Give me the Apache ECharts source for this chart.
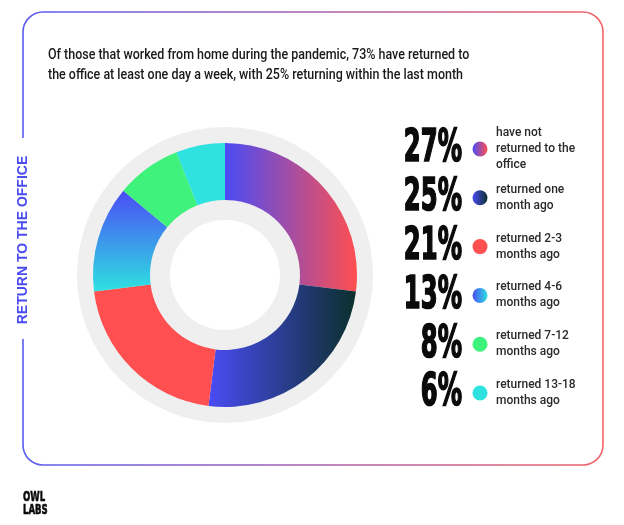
<!DOCTYPE html>
<html><head><meta charset="utf-8">
<script src="https://cdn.jsdelivr.net/npm/echarts@6/dist/echarts.min.js"></script>
<style>html,body{margin:0;padding:0;background:#fff}#c{width:624px;height:525px}</style>
</head><body><div id="c"></div>
<script>
// ---- data ----
const categories = ['have not returned to the office','returned one month ago','returned 2-3 months ago','returned 4-6 months ago','returned 7-12 months ago','returned 13-18 months ago'];
const legendLines = [['have not','returned to the','office'],['returned one','month ago'],['returned 2-3','months ago'],['returned 4-6','months ago'],['returned 7-12','months ago'],['returned 13-18','months ago']];
const values = [27,25,21,13,8,6];
const titleLines = ['Of those that worked from home during the pandemic, 73% have returned to','the office at least one day a week, with 25% returning within the last month'];
const sideTitle = 'RETURN TO THE OFFICE';
const logoLines = ['OWL','LABS'];

// ---- styles ----
const G = echarts.graphic.LinearGradient;
const BLUE = '#4a4cf5', RED = '#ff4f50', DARK = '#0b2f2c', CYAN = '#2ee2e0', GREEN = '#3ef27b';
const sliceColors = [
  new G(0,0,1,0,[{offset:0,color:BLUE},{offset:1,color:RED}]),
  new G(0,0,1,0,[{offset:0,color:BLUE},{offset:1,color:DARK}]),
  RED,
  new G(0,0,0,1,[{offset:0,color:BLUE},{offset:1,color:CYAN}]),
  GREEN,
  CYAN
];
const dotColors = [
  new G(0,0,1,0,[{offset:0,color:BLUE},{offset:1,color:RED}]),
  new G(0,0,1,0,[{offset:0,color:BLUE},{offset:1,color:DARK}]),
  RED,
  new G(0,0,1,0,[{offset:0,color:BLUE},{offset:1,color:CYAN}]),
  GREEN,
  CYAN
];

const chart = echarts.init(document.getElementById('c'), null, {renderer:'canvas'});
const graphics = [];
// border
graphics.push({type:'rect', shape:{x:23,y:12,width:580,height:453,r:20},
  style:{fill:'none', stroke:new G(0,0,1,0,[{offset:0,color:'#5a5cf0'},{offset:1,color:'#f06468'}]), lineWidth:1.6}, z:0});
graphics.push({type:'rect', shape:{x:14,y:138,width:18,height:201}, style:{fill:'#fff'}, z:1});
graphics.push({type:'text', x:23, y:240, rotation:Math.PI/2,
  style:{text:sideTitle, fill:'#4a4cf0', font:'bold 14px "Liberation Sans", Arial, sans-serif', align:'center', verticalAlign:'middle'}, z:2});
// title
titleLines.forEach((t,i)=>graphics.push({type:'text', x:48, y:55+i*20, scaleX:0.86,
  style:{text:t, fill:'#1a1a1a', font:'500 14.5px Roboto, sans-serif', align:'left', verticalAlign:'middle'}}));
// legend
const rowY0 = 149, rowStep = 48.8;
values.forEach((v,i)=>{
  const y = rowY0 + i*rowStep;
  graphics.push({type:'text', x:462, y:y+1, scaleX:0.75, scaleY:1.22,
    style:{text:v+'%', fill:'#0a0a0a', stroke:'#0a0a0a', lineWidth:1.4, font:'bold 36px "DejaVu Sans Condensed", sans-serif', align:'right', verticalAlign:'middle'}});
  graphics.push({type:'circle', shape:{cx:480, cy:y, r:7.5}, style:{fill:dotColors[i]}});
  const lines = legendLines[i];
  lines.forEach((l,j)=>graphics.push({type:'text', x:496, y:y+(j-(lines.length-1)/2)*16,
    style:{text:l, fill:'#2a2a2a', font:'500 12px Roboto, sans-serif', align:'left', verticalAlign:'middle'}}));
});
// logo
logoLines.forEach((t,i)=>graphics.push({type:'text', x:23, y:497+i*13, scaleX:0.68, scaleY:1.05,
  style:{text:t, fill:'#0a0a0a', stroke:'#0a0a0a', lineWidth:0.6, font:'bold 14px "DejaVu Sans Condensed", sans-serif', align:'left', verticalAlign:'middle'}}));

chart.setOption({
  animation:false,
  graphic: graphics,
  series:[
    {type:'pie', center:[225,275], radius:[55,148], silent:true, z:1,
     label:{show:false}, labelLine:{show:false},
     data:[{value:1, name:'bg', itemStyle:{color:'#efefef'}}]},
    {type:'pie', center:[225,275], radius:[75,132], startAngle:90, clockwise:true, z:3,
     label:{show:false}, labelLine:{show:false}, emphasis:{disabled:true},
     itemStyle:{borderWidth:0},
     data: values.map((v,i)=>({value:v, name:categories[i], itemStyle:{color:sliceColors[i]}}))}
  ]
});
</script></body></html>
